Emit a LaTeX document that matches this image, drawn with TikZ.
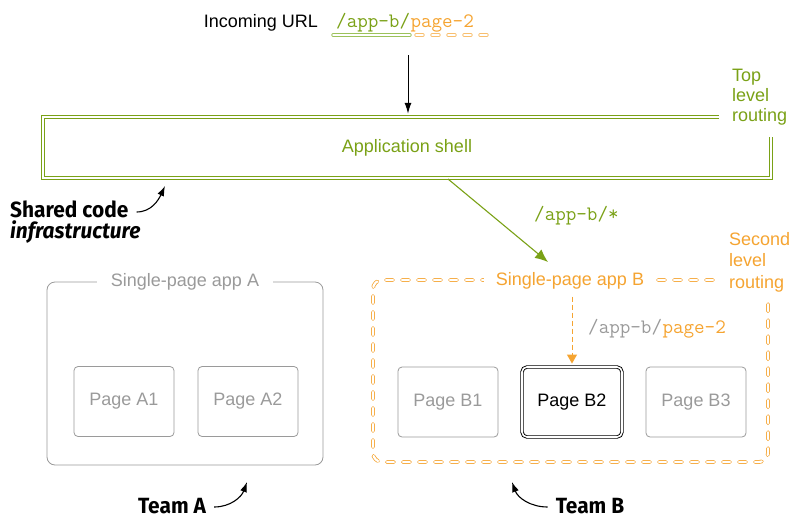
\documentclass[tikz,border=0pt]{standalone}
\usepackage{fontspec}
\setmainfont{Liberation Sans}
\newfontfamily\notefont[FakeStretch=0.95]{Fira Sans}
\usetikzlibrary{arrows.meta, positioning, calc}
\definecolor{shellgreen}{HTML}{7AA116}
\definecolor{linegreen}{HTML}{9CC25A}
\definecolor{routeorange}{HTML}{F5A431}
\definecolor{pagegray}{HTML}{9A9A9A}

\tikzset{
  lbl/.style={inner sep=0pt, font=\fontsize{18}{21}\selectfont},
  urltext/.style={inner sep=0pt, font=\ttfamily\fontsize{20.5}{22}\selectfont},
  note/.style={inner sep=0pt, font=\notefont\bfseries\fontsize{22}{24}\selectfont},
  pagebox/.style={draw=pagegray, line width=0.8pt, rounded corners=4pt,
    minimum width=100pt, minimum height=70pt, text=pagegray,
    font=\fontsize{18}{21}\selectfont},
  greendouble/.style={draw=shellgreen, double=white, line width=0.9pt, double distance=2.2pt},
  orangedash/.style={draw=routeorange, double=white, line width=0.8pt, double distance=2.2pt,
    dash pattern=on 7pt off 9pt, line cap=round},
  notearrow/.style={line width=1.1pt, -{Latex[length=10pt,width=7pt]}},
}

\begin{document}
\begin{tikzpicture}[x=1pt, y=-1pt]
    \useasboundingbox (0,0) rectangle (793,520);

    % Incoming URL
    \node[lbl, anchor=base east] (incoming) at (318,27) {Incoming URL};
    \node[urltext, anchor=base west, text=shellgreen] (urlapp) at (336,27) {/app-b/};
    \node[urltext, anchor=base west, text=routeorange] (urlpage) at (urlapp.base east) {page-2};
    \draw[draw=linegreen, double=white, line width=0.8pt, double distance=1.8pt, line cap=round]
        (333,35) -- (410,35);
    \draw[orangedash, draw=routeorange!70, double distance=1.8pt] (416,35) -- (487,35);

    % Application shell
    \node[lbl, text=shellgreen, minimum width=728pt, minimum height=61pt] (shell) at (407,147.5) {Application shell};
    \draw[greendouble] ([xshift=-52pt]shell.north east) -| (shell.south west) -| ([yshift=-20pt]shell.north east);
    \node[lbl, text=shellgreen, align=left, anchor=north west, font=\fontsize{18}{20}\selectfont] (toprouting) at (732,69) {Top\\level\\routing};
    \coordinate (urlin) at (408,55);
    \draw[line width=1pt, -{Latex[length=11pt,width=7pt]}, shorten >=3pt] (urlin) -- (urlin |- shell.north);

    % Shared code note
    \node[note, anchor=base west] (shared) at (10,217) {Shared code};
    \node[note, anchor=base west, font=\notefont\bfseries\itshape\fontsize{22}{24}\selectfont] (infra) at (10,238) {infrastructure};
    \coordinate (sharedtip) at (165,186);
    \draw[notearrow] ([xshift=8pt,yshift=5pt]shared.base east) to[out=0, in=-115] (sharedtip);

    % Single-page app A
    \draw[draw=pagegray, line width=0.8pt, rounded corners=8pt] (47,282) rectangle (323,465);
    \node[lbl, text=pagegray, fill=white, inner xsep=14pt, inner ysep=4pt] (spaA) at (185,282) {Single-page app A};
    \foreach \x/\p in {124/A1, 248/A2} {
        \node[pagebox] (page\p) at (\x,401.5) {Page \p};
    }

    % Single-page app B
    \draw[orangedash, rounded corners=9pt] (713,280) -| (373,462) -| (768,302);
    \node[lbl, text=routeorange, fill=white, inner xsep=12pt, inner ysep=5pt] (spaB) at (570,281) {Single-page app B};
    \node[lbl, text=routeorange, align=left, anchor=north west, font=\fontsize{18}{21.5}\selectfont] (secondrouting) at (729,232) {Second\\level\\routing};
    \foreach \x/\p in {448/B1, 696/B3} {
        \node[pagebox] (page\p) at (\x,402) {Page \p};
    }
    \node[pagebox, draw=black, text=black, double=white, line width=0.9pt, double distance=1.6pt, rounded corners=5pt] (pageB2) at (572,402) {Page B2};

    % Top level route
    \coordinate (shellout) at (448,179);
    \coordinate (spaBin) at (548,262);
    \draw[shellgreen, line width=1.1pt, -{Latex[length=13pt,width=11pt]}] (shellout) -- (spaBin);
    \node[urltext, anchor=base west, text=shellgreen] (routeB) at (534,220) {/app-b/*};

    % Second level route
    \draw[routeorange, line width=1pt, dash pattern=on 5pt off 3pt, -{Triangle[length=9pt,width=10pt]}, shorten <=2pt, shorten >=3pt]
        (spaB.south -| pageB2) -- (pageB2.north);
    \node[urltext, anchor=base west, text=pagegray] (routeapp) at (588,333) {/app-b/};
    \node[urltext, anchor=base west, text=routeorange] (routepage) at (routeapp.base east) {page-2};

    % Teams
    \node[note, anchor=base] (teamA) at (172,513) {Team A};
    \coordinate (teamAtip) at (247,482);
    \draw[notearrow] ([xshift=8pt,yshift=6pt]teamA.base east) to[out=0, in=-110] (teamAtip);
    \node[note, anchor=base] (teamB) at (590,513) {Team B};
    \coordinate (teamBtip) at (512,482);
    \draw[notearrow] ([xshift=-8pt,yshift=6pt]teamB.base west) to[out=180, in=-70] (teamBtip);
\end{tikzpicture}
\end{document}
